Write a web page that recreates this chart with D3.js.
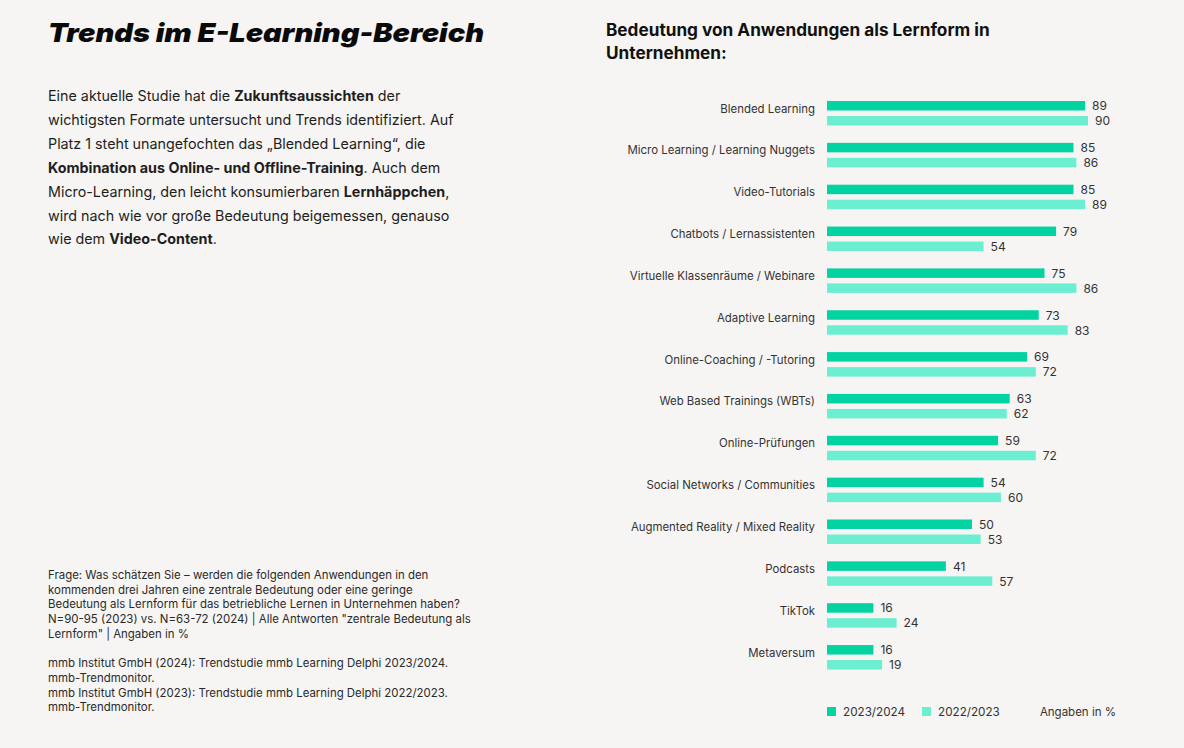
<!DOCTYPE html>
<html><head><meta charset="utf-8">
<script src="https://cdn.jsdelivr.net/npm/d3@7"></script>
<style>
html,body{margin:0;padding:0;background:#f6f5f3;}
svg{display:block;font-family:Inter,"Noto Sans",sans-serif;}
</style></head><body>
<svg id="c" width="1184" height="748"></svg>
<script>
const categories = ["Blended Learning","Micro Learning / Learning Nuggets","Video-Tutorials","Chatbots / Lernassistenten","Virtuelle Klassenräume / Webinare","Adaptive Learning","Online-Coaching / -Tutoring","Web Based Trainings (WBTs)","Online-Prüfungen","Social Networks / Communities","Augmented Reality / Mixed Reality","Podcasts","TikTok","Metaversum"];
const values2024 = [89,85,85,79,75,73,69,63,59,54,50,41,16,16];
const values2023 = [90,86,89,54,86,83,72,62,72,60,53,57,24,19];
const seriesNames = ["2023/2024","2022/2023"];
const seriesColors = ["#02d3a0","#6cefd1"];
const unitNote = "Angaben in %";

const title = "Trends im E-Learning-Bereich";
const chartTitle = ["Bedeutung von Anwendungen als Lernform in","Unternehmen:"];
const bodyLines = [
  [["Eine aktuelle Studie hat die ",0],["Zukunftsaussichten",1],[" der",0]],
  [["wichtigsten Formate untersucht und Trends identifiziert. Auf",0]],
  [["Platz 1 steht unangefochten das „Blended Learning“, die",0]],
  [["Kombination aus Online- und Offline-Training",1],[". Auch dem",0]],
  [["Micro-Learning, den leicht konsumierbaren ",0],["Lernhäppchen",1],[",",0]],
  [["wird nach wie vor große Bedeutung beigemessen, genauso",0]],
  [["wie dem ",0],["Video-Content",1],[".",0]]
];
const noteLines = [
  "Frage: Was schätzen Sie – werden die folgenden Anwendungen in den",
  "kommenden drei Jahren eine zentrale Bedeutung oder eine geringe",
  "Bedeutung als Lernform für das betriebliche Lernen in Unternehmen haben?",
  "N=90-95 (2023) vs. N=63-72 (2024) | Alle Antworten \"zentrale Bedeutung als",
  "Lernform\" | Angaben in %",
  "",
  "mmb Institut GmbH (2024): Trendstudie mmb Learning Delphi 2023/2024.",
  "mmb-Trendmonitor.",
  "mmb Institut GmbH (2023): Trendstudie mmb Learning Delphi 2022/2023.",
  "mmb-Trendmonitor."
];

const svg = d3.select("#c");
svg.append("rect").attr("width",1184).attr("height",748).attr("fill","#f6f5f3");

// Title
svg.append("text").attr("x",48).attr("y",42)
  .attr("font-size",26).attr("font-weight",900).attr("font-style","italic")
  .attr("fill","#0a0a0a").attr("textLength",436).attr("lengthAdjust","spacingAndGlyphs")
  .text(title);

// Body paragraph
const body = svg.append("g").attr("font-size",14.3).attr("fill","#1e1e1e");
bodyLines.forEach((line,i)=>{
  const t = body.append("text").attr("x",48).attr("y",101+i*23.9);
  line.forEach(([s,b])=>{
    t.append("tspan").attr("font-weight",b?700:400).text(s);
  });
});

// Notes
const notes = svg.append("g").attr("font-size",11.45).attr("fill","#2a2a2a");
noteLines.forEach((s,i)=>{
  notes.append("text").attr("x",48).attr("y",579+i*14.7).text(s);
});

// Chart title
chartTitle.forEach((s,i)=>{
  svg.append("text").attr("x",606).attr("y",36+i*23)
    .attr("font-size",17.2).attr("font-weight",700).attr("fill","#111").text(s);
});

// Scales
const x = d3.scaleLinear().domain([0,100]).range([827,1117]);
const y = d3.scaleBand().domain(categories).range([101,101+14*41.85]).paddingInner(0).paddingOuter(0);
const ys = d3.scaleBand().domain(seriesNames).range([0,24.5]).paddingInner(1-9.5/15);

const data = categories.map((c,i)=>({cat:c, vals:[values2024[i],values2023[i]]}));

const groups = svg.append("g").selectAll("g").data(data).join("g")
  .attr("transform",d=>`translate(0,${y(d.cat)})`);

groups.append("text").attr("x",815).attr("y",7.5)
  .attr("text-anchor","end").attr("dominant-baseline","central")
  .attr("font-size",11.4).attr("fill","#333").text(d=>d.cat);

seriesNames.forEach((s,si)=>{
  groups.append("rect").attr("x",x(0)).attr("y",ys(s))
    .attr("width",d=>x(d.vals[si])-x(0)).attr("height",ys.bandwidth())
    .attr("fill",seriesColors[si]);
  groups.append("text").attr("x",d=>x(d.vals[si])+7).attr("y",ys(s)+ys.bandwidth()/2)
    .attr("dominant-baseline","central").attr("font-size",12).attr("fill","#333")
    .text(d=>d.vals[si]);
});

// Legend
const legX = [827,922];
seriesNames.forEach((s,i)=>{
  svg.append("rect").attr("x",legX[i]).attr("y",707).attr("width",9).attr("height",9).attr("fill",seriesColors[i]);
  svg.append("text").attr("x",legX[i]+16).attr("y",712).attr("dominant-baseline","central")
    .attr("font-size",11.7).attr("fill","#333").text(s);
});
svg.append("text").attr("x",1116).attr("y",712).attr("text-anchor","end").attr("dominant-baseline","central")
  .attr("font-size",11.5).attr("fill","#333").text(unitNote);
</script>
</body></html>
